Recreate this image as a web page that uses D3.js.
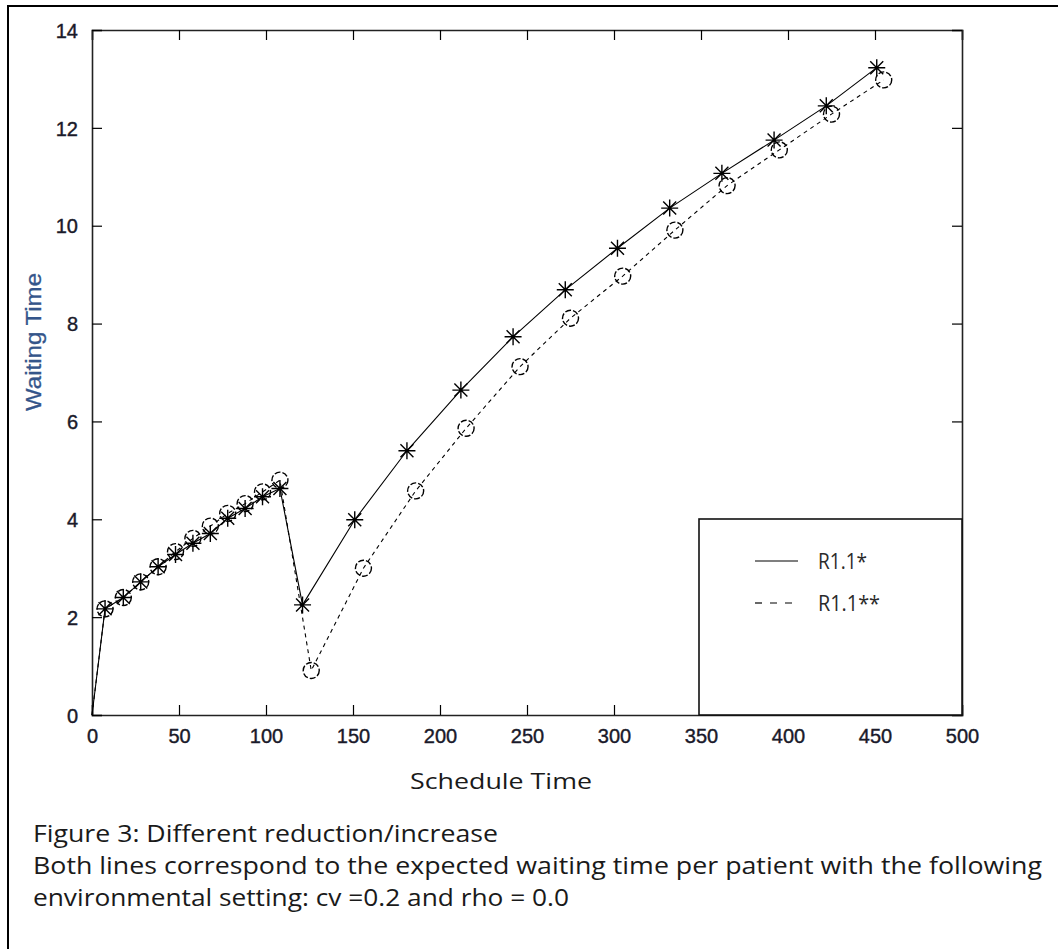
<!DOCTYPE html>
<html>
<head>
<meta charset="utf-8">
<script src="https://cdn.jsdelivr.net/npm/d3@7"></script>
<style>
  body { margin: 0; background: #fff; }
  svg { display: block; }
</style>
</head>
<body>
<div id="chart"></div>
<script>
// series
var starX   = [0, 7.5, 18, 28, 38, 48, 58, 68, 78, 88, 98, 108, 121, 151, 181, 212, 242, 272, 302, 332, 362, 392, 422, 451];
var starY   = [0, 2.17, 2.40, 2.72, 3.03, 3.28, 3.51, 3.71, 4.02, 4.22, 4.46, 4.63, 2.25, 3.99, 5.40, 6.64, 7.73, 8.69, 9.54, 10.36, 11.07, 11.75, 12.45, 13.23];
var circleX = [0, 7.5, 18, 28, 38, 48, 58, 68, 78, 88, 98, 108, 126, 156, 186, 215, 246, 275, 305, 335, 365, 395, 425, 455];
var circleY = [0, 2.17, 2.40, 2.72, 3.03, 3.34, 3.61, 3.86, 4.12, 4.32, 4.56, 4.80, 0.91, 3.00, 4.58, 5.86, 7.12, 8.11, 8.97, 9.91, 10.82, 11.55, 12.28, 12.98];
var xTicks = [0, 50, 100, 150, 200, 250, 300, 350, 400, 450, 500];
var yTicks = [0, 2, 4, 6, 8, 10, 12, 14];
var legendNames = ["R1.1*", "R1.1**"];
var captionLines = [
  "Figure 3: Different reduction/increase",
  "Both lines correspond to the expected waiting time per patient with the following",
  "environmental setting: cv =0.2 and rho = 0.0"
];
var captionWidths = [465, 1009, 536];

(function(){
var W = 1058, H = 949;
var pL = 92, pR = 962, pT = 30, pB = 715;

var svg = d3.select("#chart").append("svg").attr("width", W).attr("height", H);
svg.append("rect").attr("width", W).attr("height", H).attr("fill", "#fff");

// outer frame (clipped at right/bottom in the source)
svg.append("rect").attr("x", 8).attr("y", 6).attr("width", 1200).attr("height", 1200)
  .attr("fill", "none").attr("stroke", "#000").attr("stroke-width", 2);

var x = d3.scaleLinear().domain([0, 500]).range([pL, pR]);
var y = d3.scaleLinear().domain([0, 14]).range([pB, pT]);

var tickFont = "'Liberation Sans', Arial, sans-serif";

// axes, ticks inside on all four sides
var gB = svg.append("g").attr("transform", "translate(0," + pB + ")")
  .call(d3.axisBottom(x).tickValues(xTicks).tickSize(-10).tickPadding(14));
var gT = svg.append("g").attr("transform", "translate(0," + pT + ")")
  .call(d3.axisTop(x).tickValues(xTicks).tickSize(-10).tickFormat(""));
var gL = svg.append("g").attr("transform", "translate(" + pL + ",0)")
  .call(d3.axisLeft(y).tickValues(yTicks).tickSize(-10).tickPadding(14));
var gR = svg.append("g").attr("transform", "translate(" + pR + ",0)")
  .call(d3.axisRight(y).tickValues(yTicks).tickSize(-10).tickFormat(""));

[gB, gT, gL, gR].forEach(function(g){
  g.attr("font-size", null).attr("font-family", null);
  g.select(".domain").attr("stroke", "#222").attr("stroke-width", 1.6);
  g.selectAll(".tick line").attr("stroke", "#000").attr("stroke-width", 1.2);
  g.selectAll(".tick text").attr("fill", "#1a1a2a")
    .attr("stroke", "#1a1a2a").attr("stroke-width", 0.4)
    .style("font-family", tickFont).style("font-size", "20px");
});
gL.selectAll(".tick text").attr("dy", "0.36em");
gB.selectAll(".tick text").attr("dy", "0.71em");

// lines
var solidPts = starX.map(function(d, i){ return [d, starY[i]]; });
var dashPts = circleX.map(function(d, i){ return [d, circleY[i]]; });
var line = d3.line().x(function(d){ return x(d[0]); }).y(function(d){ return y(d[1]); });

svg.append("path").attr("d", line(dashPts)).attr("fill", "none")
  .attr("stroke", "#000").attr("stroke-width", 1.1).attr("stroke-dasharray", "4,4");
svg.append("path").attr("d", line(solidPts)).attr("fill", "none")
  .attr("stroke", "#000").attr("stroke-width", 1.1);

// circle markers (skip the origin)
svg.append("g").selectAll("circle").data(dashPts.slice(1)).enter().append("circle")
  .attr("cx", function(d){ return x(d[0]); })
  .attr("cy", function(d){ return y(d[1]); })
  .attr("r", 8)
  .attr("fill", "none").attr("stroke", "#000").attr("stroke-width", 1.4)
  .attr("stroke-dasharray", "6,2");

// star markers: plus + cross
var r = 8.5, rd = 6.5;
svg.append("g").selectAll("path").data(solidPts.slice(1)).enter().append("path")
  .attr("d", function(d){
    var cx = x(d[0]), cy = y(d[1]);
    return "M" + (cx - r) + "," + cy + "H" + (cx + r) +
           "M" + cx + "," + (cy - r) + "V" + (cy + r) +
           "M" + (cx - rd) + "," + (cy - rd) + "L" + (cx + rd) + "," + (cy + rd) +
           "M" + (cx - rd) + "," + (cy + rd) + "L" + (cx + rd) + "," + (cy - rd);
  })
  .attr("fill", "none").attr("stroke", "#000").attr("stroke-width", 1.4);

// legend
var lg = svg.append("g");
lg.append("rect").attr("x", 699).attr("y", 519).attr("width", pR - 699).attr("height", pB - 519)
  .attr("fill", "#fff").attr("stroke", "#111").attr("stroke-width", 1.6);
legendNames.forEach(function(name, i){
  var ly = 561 + i * 42;
  lg.append("line").attr("x1", 755).attr("x2", 798).attr("y1", ly).attr("y2", ly)
    .attr("stroke", "#000").attr("stroke-width", 1.2)
    .attr("stroke-dasharray", i === 0 ? null : "7,8");
  lg.append("text").attr("x", 818).attr("y", ly + 8)
    .style("font-family", "'Open Sans', sans-serif").style("font-size", "21px")
    .attr("textLength", i === 0 ? 49 : 62).attr("lengthAdjust", "spacingAndGlyphs")
    .attr("fill", "#2a2a2a").text(name);
});

// axis labels
svg.append("text").attr("x", 501).attr("y", 789).attr("text-anchor", "middle")
  .style("font-family", "'Open Sans', sans-serif").style("font-size", "22px")
  .attr("textLength", 182).attr("lengthAdjust", "spacingAndGlyphs")
  .attr("fill", "#1a1a1a").text("Schedule Time");

svg.append("text").attr("transform", "translate(41,342) rotate(-90)")
  .attr("text-anchor", "middle")
  .style("font-family", tickFont).style("font-size", "22px")
  .attr("textLength", 138).attr("lengthAdjust", "spacingAndGlyphs")
  .attr("fill", "#34558a").attr("stroke", "#34558a").attr("stroke-width", 0.3)
  .text("Waiting Time");

// caption
captionLines.forEach(function(t, i){
  svg.append("text").attr("x", 33).attr("y", 842 + i * 32)
    .style("font-family", "'Open Sans', sans-serif").style("font-size", "23px")
    .attr("textLength", captionWidths[i]).attr("lengthAdjust", "spacingAndGlyphs")
    .attr("fill", "#1a1a1a").text(t);
});
})();
</script>
</body>
</html>
